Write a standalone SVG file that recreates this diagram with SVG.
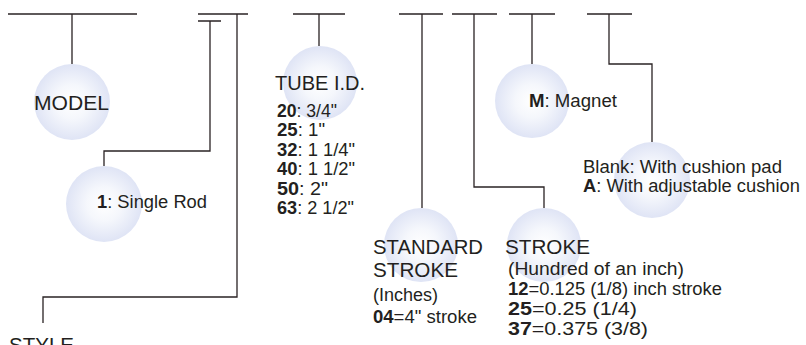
<svg xmlns="http://www.w3.org/2000/svg" width="806" height="345" viewBox="0 0 806 345">
<defs>
<radialGradient id="ball" cx="0.5" cy="0.5" r="0.5">
<stop offset="0" stop-color="#ffffff"/>
<stop offset="0.45" stop-color="#f5f7fc"/>
<stop offset="1" stop-color="#dfe4f5"/>
</radialGradient>
</defs>
<style>
.ln{fill:none;stroke:#2a2324;stroke-width:1.3}
.ball{fill:url(#ball)}
text{font-family:"Liberation Sans",Arial,sans-serif;fill:#231f20}
.big{font-size:21px}
.sm{font-size:17.5px}
.b{font-weight:bold}
</style>
<rect width="806" height="345" fill="#ffffff"/>
<g id="connectors">
<path class="ln" d="M8 14H137M72 14V64"/>
<path class="ln" d="M198 14H248M198 21H221M210 21V151H104V166"/>
<path class="ln" d="M237 14V297H43V323"/>
<path class="ln" d="M293 14H345M319 14V46"/>
<path class="ln" d="M399 14H443M422 14V208"/>
<path class="ln" d="M452 14H497M474 14V187H544V208"/>
<path class="ln" d="M509 14H555M532 14V64"/>
<path class="ln" d="M587 14H632M609 14V64H652V142"/>
</g>
<g id="model">
<circle class="ball" cx="72" cy="102" r="38"/>
<text class="big" x="34" y="110" textLength="75" lengthAdjust="spacingAndGlyphs">MODEL</text>
</g>
<g id="single-rod">
<circle class="ball" cx="104" cy="204" r="38"/>
<text class="sm" x="97" y="208" textLength="110" lengthAdjust="spacingAndGlyphs"><tspan class="b">1</tspan>: Single Rod</text>
</g>
<g id="style">
<text class="big" x="9" y="352" textLength="65" lengthAdjust="spacingAndGlyphs">STYLE</text>
</g>
<g id="tube">
<circle class="ball" cx="320" cy="83" r="37"/>
<text class="big" x="275" y="90" textLength="90" lengthAdjust="spacingAndGlyphs">TUBE I.D.</text>
<text class="sm" x="277" y="117" textLength="60" lengthAdjust="spacingAndGlyphs"><tspan class="b">20</tspan>: 3/4"</text>
<text class="sm" x="277" y="136" textLength="48" lengthAdjust="spacingAndGlyphs"><tspan class="b">25</tspan>: 1"</text>
<text class="sm" x="277" y="156" textLength="78" lengthAdjust="spacingAndGlyphs"><tspan class="b">32</tspan>: 1 1/4"</text>
<text class="sm" x="277" y="175" textLength="78" lengthAdjust="spacingAndGlyphs"><tspan class="b">40</tspan>: 1 1/2"</text>
<text class="sm" x="277" y="195" textLength="51" lengthAdjust="spacingAndGlyphs"><tspan class="b">50</tspan>: 2"</text>
<text class="sm" x="277" y="214" textLength="77" lengthAdjust="spacingAndGlyphs"><tspan class="b">63</tspan>: 2 1/2"</text>
</g>
<g id="standard-stroke">
<circle class="ball" cx="421" cy="245" r="37"/>
<text class="big" x="373" y="254" textLength="110" lengthAdjust="spacingAndGlyphs">STANDARD</text>
<text class="big" x="373" y="277" textLength="85" lengthAdjust="spacingAndGlyphs">STROKE</text>
<text class="sm" x="373" y="301" textLength="65" lengthAdjust="spacingAndGlyphs">(Inches)</text>
<text class="sm" x="373" y="323" textLength="104" lengthAdjust="spacingAndGlyphs"><tspan class="b">04</tspan>=4" stroke</text>
</g>
<g id="stroke">
<circle class="ball" cx="544" cy="245" r="37"/>
<text class="big" x="505" y="254" textLength="85" lengthAdjust="spacingAndGlyphs">STROKE</text>
<text class="sm" x="508" y="275" textLength="176" lengthAdjust="spacingAndGlyphs">(Hundred of an inch)</text>
<text class="sm" x="508" y="295" textLength="214" lengthAdjust="spacingAndGlyphs"><tspan class="b">12</tspan>=0.125 (1/8) inch stroke</text>
<text class="sm" x="508" y="315" textLength="129" lengthAdjust="spacingAndGlyphs"><tspan class="b">25</tspan>=0.25 (1/4)</text>
<text class="sm" x="508" y="335" textLength="140" lengthAdjust="spacingAndGlyphs"><tspan class="b">37</tspan>=0.375 (3/8)</text>
</g>
<g id="magnet">
<circle class="ball" cx="532" cy="101" r="37"/>
<text class="sm" x="529" y="107" textLength="88" lengthAdjust="spacingAndGlyphs"><tspan class="b">M</tspan>: Magnet</text>
</g>
<g id="cushion">
<circle class="ball" cx="652" cy="180" r="38"/>
<text class="sm" x="583" y="173" textLength="199" lengthAdjust="spacingAndGlyphs">Blank: With cushion pad</text>
<text class="sm" x="583" y="192" textLength="217" lengthAdjust="spacingAndGlyphs"><tspan class="b">A</tspan>: With adjustable cushion</text>
</g>
</svg>
